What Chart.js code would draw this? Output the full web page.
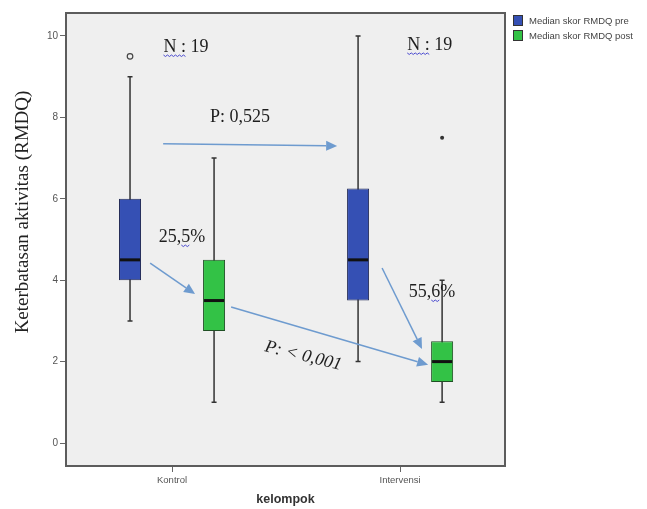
<!DOCTYPE html>
<html>
<head>
<meta charset="utf-8">
<script src="https://cdn.jsdelivr.net/npm/chart.js@4.4.1/dist/chart.umd.min.js"></script>
<style>
  html, body { margin: 0; padding: 0; background: #fff; }
  #wrap { width: 647px; height: 509px; }
</style>
</head>
<body>
<div id="wrap"><canvas id="rmdq"></canvas></div>
<script>
const kelompok = ['Kontrol', 'Intervensi'];
const yTicks = [0, 2, 4, 6, 8, 10];

// Median skor RMDQ pre: min, q1, median, q3, max per kelompok
const preMin = [3, 2];
const preQ1 = [4, 3.5];
const preMedian = [4.5, 4.5];
const preQ3 = [6, 6.25];
const preMax = [9, 10];
const preOutliers = [[9.5], []];
const preExtremes = [[], []];

// Median skor RMDQ post
const postMin = [1, 1];
const postQ1 = [2.75, 1.5];
const postMedian = [3.5, 2];
const postQ3 = [4.5, 2.5];
const postMax = [7, 4];
const postOutliers = [[], []];
const postExtremes = [[], [7.5]];

const summaries = [
  { min: preMin, med: preMedian, max: preMax, out: preOutliers, ext: preExtremes },
  { min: postMin, med: postMedian, max: postMax, out: postOutliers, ext: postExtremes }
];

// annotations, placed in axis units (x: kelompok index, y: RMDQ)
const notes = [
  { text: 'N : 19', x: 0.061, y: 9.73, squiggle: [0, 3] },
  { text: 'N : 19', x: 1.13, y: 9.78, squiggle: [0, 3] },
  { text: 'P: 0,525', x: 0.298, y: 8.01 },
  { text: '25,5%', x: 0.044, y: 5.06, squiggle: [3, 4] },
  { text: '55,6%', x: 1.14, y: 3.71, squiggle: [3, 4] },
  { text: 'P: < 0,001', x: 0.575, y: 2.14, italic: true, angle: 14 }
];
const arrows = [
  { from: [-0.039, 7.35], to: [0.724, 7.30] },
  { from: [-0.096, 4.42], to: [0.101, 3.66] },
  { from: [0.259, 3.34], to: [1.123, 1.92] },
  { from: [0.921, 4.30], to: [1.096, 2.31] }
];

const boxPlot = {
  id: 'boxPlot',
  beforeDraw(chart) {
    const { ctx, chartArea: a } = chart;
    ctx.save();
    ctx.fillStyle = '#efefef';
    ctx.fillRect(a.left, a.top, a.right - a.left, a.bottom - a.top);
    ctx.restore();
  },
  beforeDatasetsDraw(chart) {
    const { ctx } = chart;
    const y = chart.scales.y;
    ctx.save();
    ctx.strokeStyle = '#333';
    ctx.lineWidth = 1.5;
    summaries.forEach((s, di) => {
      chart.getDatasetMeta(di).data.forEach((bar, i) => {
        const top = y.getPixelForValue(s.max[i]);
        const bot = y.getPixelForValue(s.min[i]);
        ctx.beginPath();
        ctx.moveTo(bar.x, top);
        ctx.lineTo(bar.x, bot);
        ctx.moveTo(bar.x - 2.5, top);
        ctx.lineTo(bar.x + 2.5, top);
        ctx.moveTo(bar.x - 2.5, bot);
        ctx.lineTo(bar.x + 2.5, bot);
        ctx.stroke();
      });
    });
    ctx.restore();
  },
  afterDatasetsDraw(chart) {
    const { ctx } = chart;
    const x = chart.scales.x, y = chart.scales.y;
    ctx.save();
    summaries.forEach((s, di) => {
      chart.getDatasetMeta(di).data.forEach((bar, i) => {
        const half = bar.width / 2;
        const m = y.getPixelForValue(s.med[i]);
        ctx.strokeStyle = '#111';
        ctx.lineWidth = 3;
        ctx.beginPath();
        ctx.moveTo(bar.x - half + 1, m);
        ctx.lineTo(bar.x + half - 1, m);
        ctx.stroke();
        ctx.lineWidth = 1.2;
        ctx.strokeStyle = '#444';
        s.out[i].forEach(v => {
          ctx.beginPath();
          ctx.arc(bar.x, y.getPixelForValue(v), 2.8, 0, Math.PI * 2);
          ctx.stroke();
        });
        ctx.fillStyle = '#333';
        s.ext[i].forEach(v => {
          ctx.beginPath();
          ctx.arc(bar.x, y.getPixelForValue(v), 2, 0, Math.PI * 2);
          ctx.fill();
        });
      });
    });

    // arrows
    ctx.strokeStyle = '#6e9bcf';
    ctx.fillStyle = '#6e9bcf';
    ctx.lineWidth = 1.5;
    arrows.forEach(ar => {
      const x1 = x.getPixelForValue(ar.from[0]), y1 = y.getPixelForValue(ar.from[1]);
      const x2 = x.getPixelForValue(ar.to[0]), y2 = y.getPixelForValue(ar.to[1]);
      const ang = Math.atan2(y2 - y1, x2 - x1);
      const len = 11, w = 5;
      const bx = x2 - len * Math.cos(ang), by = y2 - len * Math.sin(ang);
      ctx.beginPath();
      ctx.moveTo(x1, y1);
      ctx.lineTo(bx, by);
      ctx.stroke();
      ctx.beginPath();
      ctx.moveTo(x2, y2);
      ctx.lineTo(bx - w * Math.sin(ang), by + w * Math.cos(ang));
      ctx.lineTo(bx + w * Math.sin(ang), by - w * Math.cos(ang));
      ctx.closePath();
      ctx.fill();
    });

    // text notes
    notes.forEach(n => {
      const px = x.getPixelForValue(n.x), py = y.getPixelForValue(n.y);
      ctx.save();
      ctx.translate(px, py);
      if (n.angle) ctx.rotate(n.angle * Math.PI / 180);
      ctx.font = (n.italic ? 'italic ' : '') + '18px "Liberation Serif", "DejaVu Serif", serif';
      ctx.fillStyle = '#1e1e1e';
      ctx.textAlign = 'center';
      ctx.textBaseline = 'middle';
      ctx.fillText(n.text, 0, 0);
      if (n.squiggle) {
        const full = ctx.measureText(n.text).width;
        const sx = -full / 2 + ctx.measureText(n.text.slice(0, n.squiggle[0])).width;
        const ex = -full / 2 + ctx.measureText(n.text.slice(0, n.squiggle[1])).width;
        ctx.strokeStyle = '#4a4ad0';
        ctx.lineWidth = 1;
        ctx.beginPath();
        for (let k = sx, up = true; k <= ex; k += 2, up = !up) {
          const yy = up ? 8 : 9.5;
          if (k === sx) ctx.moveTo(k, yy); else ctx.lineTo(k, yy);
        }
        ctx.stroke();
      }
      ctx.restore();
    });
    ctx.restore();
  },
  afterDraw(chart) {
    const { ctx, chartArea: a } = chart;
    ctx.save();
    ctx.strokeStyle = '#5c5c5c';
    ctx.lineWidth = 2;
    ctx.strokeRect(a.left, a.top, a.right - a.left, a.bottom - a.top);

    // y title
    ctx.translate(23, 212);
    ctx.rotate(-Math.PI / 2);
    ctx.font = '19px "Liberation Serif", "DejaVu Serif", serif';
    ctx.fillStyle = '#222';
    ctx.textAlign = 'center';
    ctx.textBaseline = 'middle';
    ctx.fillText('Keterbatasan aktivitas (RMDQ)', 0, 0);
    ctx.restore();

    // legend
    ctx.save();
    ctx.font = '9.5px "Liberation Sans", Arial, sans-serif';
    ctx.textBaseline = 'middle';
    chart.data.datasets.forEach((ds, i) => {
      const top = 15 + i * 15;
      ctx.fillStyle = ds.backgroundColor;
      ctx.fillRect(513, top, 10, 11);
      ctx.strokeStyle = '#333';
      ctx.lineWidth = 1;
      ctx.strokeRect(513.5, top + 0.5, 9, 10);
      ctx.fillStyle = '#444';
      ctx.fillText(ds.label, 529, top + 6);
    });
    ctx.restore();
  }
};

new Chart(document.getElementById('rmdq'), {
  type: 'bar',
  data: {
    datasets: [
      {
        label: 'Median skor RMDQ pre',
        data: kelompok.map((k, i) => ({ x: i, y: [preQ1[i], preQ3[i]] })),
        backgroundColor: '#3550b4',
        borderColor: '#222a55',
        borderWidth: 1,
        borderSkipped: false
      },
      {
        label: 'Median skor RMDQ post',
        data: kelompok.map((k, i) => ({ x: i, y: [postQ1[i], postQ3[i]] })),
        backgroundColor: '#33c246',
        borderColor: '#1f4f24',
        borderWidth: 1,
        borderSkipped: false
      }
    ]
  },
  options: {
    responsive: true,
    maintainAspectRatio: false,
    animation: false,
    categoryPercentage: 0.737,
    barPercentage: 0.262,
    layout: { padding: { top: 13, right: 142, bottom: 0, left: 0 } },
    plugins: {
      legend: { display: false },
      tooltip: { enabled: false }
    },
    scales: {
      x: {
        type: 'linear',
        min: -0.465,
        max: 1.46,
        offset: false,
        afterBuildTicks: (scale) => { scale.ticks = kelompok.map((k, i) => ({ value: i })); },
        afterFit: (scale) => { scale.height = 43; },
        ticks: {
          callback: (v) => kelompok[v] ?? '',
          color: '#555',
          font: { size: 9.5, family: '"Liberation Sans", Arial, sans-serif' },
          padding: 3,
          maxRotation: 0
        },
        grid: { drawOnChartArea: false, offset: false, tickLength: 6, color: '#666' },
        border: { display: false },
        title: {
          display: true,
          text: 'kelompok',
          color: '#333',
          font: { size: 12.5, weight: 'bold', family: '"Liberation Sans", Arial, sans-serif' },
          padding: { top: 0, bottom: 2 }
        }
      },
      y: {
        min: -0.565,
        max: 10.565,
        afterBuildTicks: (scale) => { scale.ticks = yTicks.map(v => ({ value: v })); },
        afterFit: (scale) => { scale.width = 66; },
        ticks: {
          color: '#555',
          font: { size: 10, family: '"Liberation Sans", Arial, sans-serif' },
          padding: 2
        },
        grid: { drawOnChartArea: false, tickLength: 6, color: '#666' },
        border: { display: false }
      }
    }
  },
  plugins: [boxPlot]
});
</script>
</body>
</html>
